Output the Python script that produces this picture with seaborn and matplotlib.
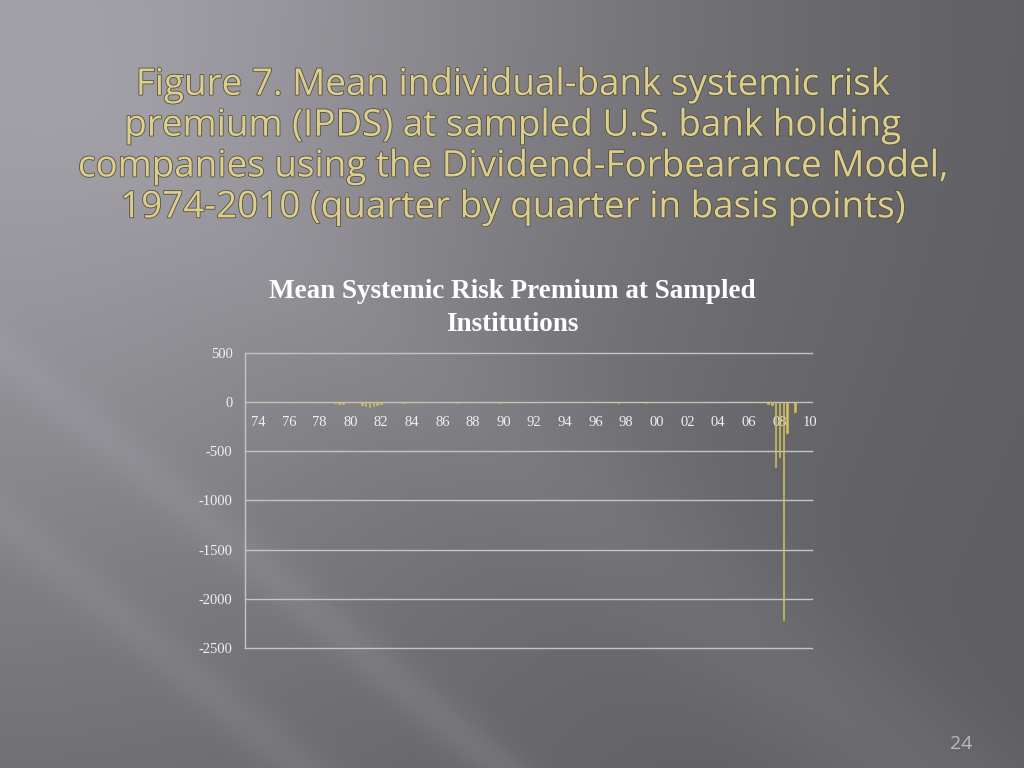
import numpy as np
import pandas as pd
import matplotlib
matplotlib.use("Agg")
import matplotlib.pyplot as plt
import matplotlib.patheffects as pe
import seaborn as sns

### Data: mean systemic risk premium (bp), quarter by quarter
years = list(range(1974, 2011))
premium_by_year = [
    [0, 0, 0, 0],          # 1974
    [0, 0, 0, 0],          # 1975
    [0, 0, 0, 0],          # 1976
    [0, 0, 0, 0],          # 1977
    [0, 0, 0, 0],          # 1978
    [0, 0, 0, -5],         # 1979
    [-15, -20, 0, 0],      # 1980
    [0, 0, -25, -35],      # 1981
    [-45, -40, -30, -15],  # 1982
    [0, 0, 0, 0],          # 1983
    [0, -8, 0, 0],         # 1984
    [0, 0, 0, 0],          # 1985
    [0, 0, 0, 0],          # 1986
    [0, 0, 0, -10],        # 1987
    [0, 0, 0, 0],          # 1988
    [0, 0, 0, 0],          # 1989
    [0, 5, -8, 0],         # 1990
    [0, 0, 0, 0],          # 1991
    [0, 0, 0, 0],          # 1992
    [0, 0, 0, 0],          # 1993
    [0, 0, 0, 0],          # 1994
    [0, 0, 0, 0],          # 1995
    [0, 0, 0, 0],          # 1996
    [0, 0, 0, 0],          # 1997
    [0, -5, 0, 0],         # 1998
    [0, 0, 0, 0],          # 1999
    [-5, 0, 0, 0],         # 2000
    [0, 0, 0, 0],          # 2001
    [0, 0, 0, 0],          # 2002
    [0, 0, 0, 0],          # 2003
    [0, 0, 0, 0],          # 2004
    [0, 0, 0, 0],          # 2005
    [0, 0, 0, 0],          # 2006
    [0, 0, 0, 0],          # 2007
    [-20, -30, -660, -560],   # 2008
    [-2220, -315, 0, -100],   # 2009
    [0, 0, 0, 0],          # 2010
]
tick_labels = ["74", "76", "78", "80", "82", "84", "86", "88", "90", "92",
               "94", "96", "98", "00", "02", "04", "06", "08", "10"]
yticks = [500, 0, -500, -1000, -1500, -2000, -2500]

rows = []
for yr, vals in zip(years, premium_by_year):
    for q, v in enumerate(vals):
        rows.append({"quarter": f"{yr}Q{q + 1}", "premium": v})
df = pd.DataFrame(rows)

plt.rcParams["font.family"] = ["Liberation Serif"]

fig = plt.figure(figsize=(10.24, 7.68), dpi=100)

### Slide background: grey, lighter to the top-left, with faint diagonal streaks
bg_ax = fig.add_axes([0, 0, 1, 1], zorder=-10)
px, py = np.meshgrid(np.arange(1024), np.arange(768))
lum = 0.36 + 0.28 * np.exp(-((px / 1024) ** 2 * 2.5 + (py / 768) ** 2 * 1.2))
c = px - 1.2 * py
lum += 0.05 * np.exp(-((c + 10) / 130) ** 2) * (py / 768)
lum += 0.05 * np.exp(-((c + 420) / 35) ** 2) * (py / 768)
lum += 0.04 * np.exp(-((c + 620) / 35) ** 2) * (py / 768)
img = np.dstack([lum * 1.0, lum * 0.99, lum * 1.03])
bg_ax.imshow(np.clip(img, 0, 1), aspect="auto", extent=[0, 1, 0, 1], origin="upper")
bg_ax.set_axis_off()

### Slide title
title = ("Figure 7. Mean individual-bank systemic risk\n"
         "premium (IPDS) at sampled U.S. bank holding\n"
         "companies using the Dividend-Forbearance Model,\n"
         "1974-2010 (quarter by quarter in basis points)")
fig.text(0.5, 0.8085, title, ha="center", va="center", fontsize=26.5,
         family="Open Sans", color="#dccf8e", linespacing=1.18,
         path_effects=[pe.withStroke(linewidth=1.2, foreground="#555040")])

fig.text(0.5, 0.599, "Mean Systemic Risk Premium at Sampled\nInstitutions",
         ha="center", va="center", fontsize=19.5, fontweight="bold",
         family="Liberation Serif", color="white", linespacing=1.4)

fig.text(0.939, 0.031, "24", ha="center", va="center", fontsize=14,
         family="Open Sans", color="#bdbbc0")

### Chart
ax = fig.add_axes([0.2393, 0.1563, 0.5537, 0.3841])
ax.patch.set_alpha(0)

sns.barplot(data=df, x="quarter", y="premium", color="#d2c35c", width=0.4,
            saturation=1, edgecolor="#d2c35c", linewidth=0.4, ax=ax, zorder=3)

ax.set_xlim(-0.5, len(df) - 0.5)
ax.set_ylim(-2500, 500)
ax.set_yticks(yticks)
ax.set_yticklabels([str(t) for t in yticks])
ax.set_xticks(range(3, len(df), 8))
ax.set_xticklabels(tick_labels)
ax.set_xlabel("")
ax.set_ylabel("")
ax.tick_params(axis="both", length=0, labelsize=10.5, labelcolor="#f0f0f0")
ax.tick_params(axis="y", pad=9)
ax.tick_params(axis="x", pad=10)

ax.grid(axis="y", color="#c4c4c6", linewidth=1.0, zorder=0)
ax.grid(axis="x", visible=False)
for gl in ax.get_ygridlines():
    gl.set_clip_on(False)

for s in ["top", "right", "bottom"]:
    ax.spines[s].set_visible(False)
ax.spines["left"].set_color("#c4c4c6")
ax.spines["left"].set_linewidth(1.0)
ax.spines["bottom"].set_position(("data", 0))

fig.savefig("out.png", dpi=100)
